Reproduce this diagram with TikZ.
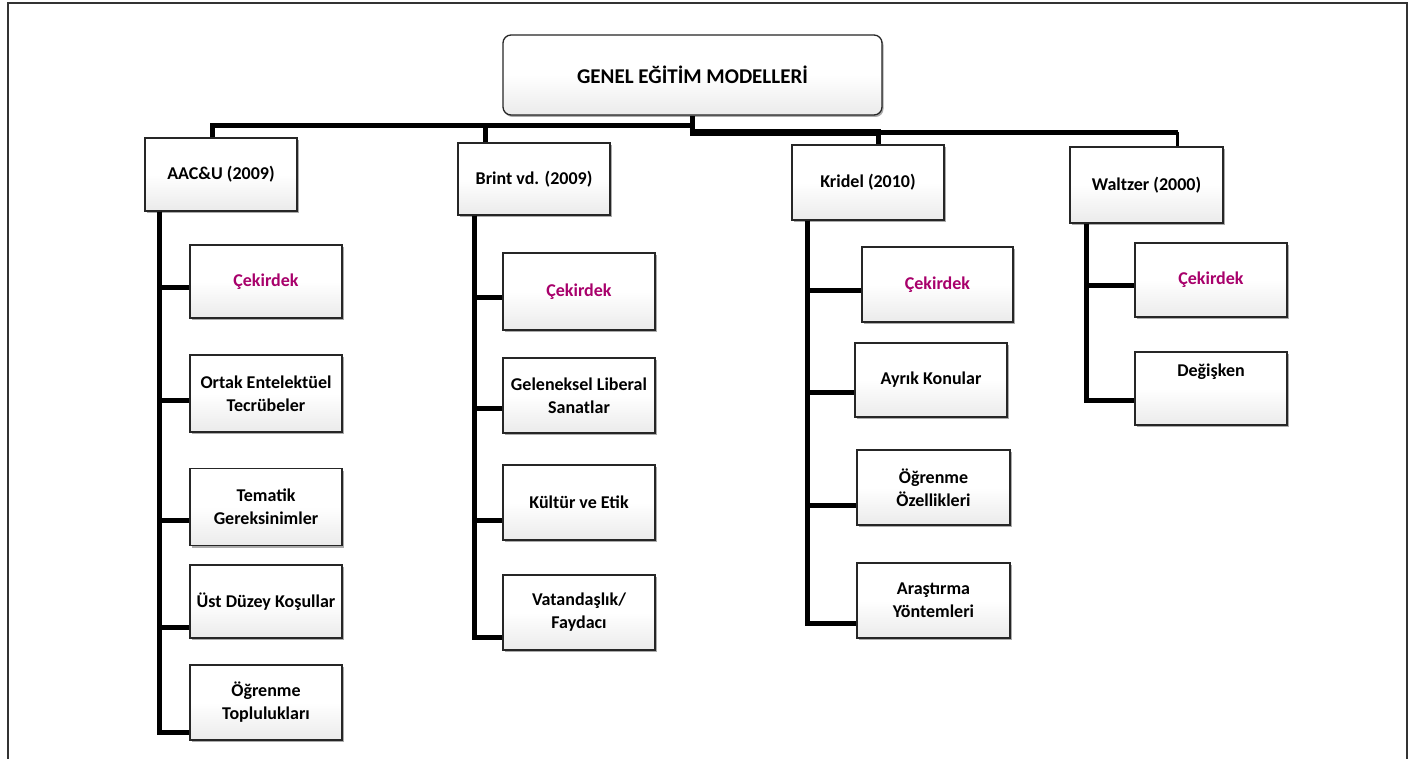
\documentclass[tikz,border=0pt]{standalone}
\usepackage{fontspec}
\setmainfont{Carlito}
\usetikzlibrary{shadows}
\definecolor{cek}{HTML}{A8006B}
\begin{document}
\begin{tikzpicture}[x=1pt,y=-1pt,
  box/.style={draw=black!85, line width=1.3pt, top color=white, bottom color=black!8, middle color=white,
    drop shadow={shadow xshift=1.5pt, shadow yshift=-2pt, fill=black!60, opacity=.55},
    minimum width=152pt, inner sep=2pt, align=center,
    font=\fontsize{18}{23}\selectfont\bfseries},
  conn/.style={line width=5pt, black},
  cek/.style={text=cek}]
\useasboundingbox (0,0) rectangle (1410,759);
\draw[line width=1.4pt, black!80] (8,759) -- (8,3) -- (1407,3) -- (1407,759);

% root
\node[box, rounded corners=8pt, minimum width=379pt, minimum height=80pt,
      font=\fontsize{21}{25}\selectfont\bfseries] (root) at (692.5,75) {GENEL EĞİTİM MODELLERİ};

% level 1
\node[box, minimum height=73pt] (aac) at (221,174.5) {AAC\&U (2009)};
\node[box, minimum height=72pt] (brint) at (534,179) {Brint vd. (2009)};
\node[box, minimum height=75pt] (kridel) at (868,182.5) {Kridel (2010)};
\node[box, minimum height=76pt, minimum width=153pt] (waltzer) at (1146.5,185) {Waltzer (2000)};

% AAC children
\node[box, cek, minimum height=73pt] (a1) at (266,281.5) {Çekirdek};
\node[box, minimum height=77pt] (a2) at (266,393.5) {Ortak Entelektüel\\Tecrübeler};
\node[box, minimum height=77pt] (a3) at (266,507) {Tematik\\Gereksinimler};
\node[box, minimum height=73pt] (a4) at (266,601.5) {Üst Düzey Koşullar};
\node[box, minimum height=75pt] (a5) at (266,702.5) {Öğrenme\\Toplulukları};

% Brint children
\node[box, cek, minimum height=77pt] (b1) at (579,291.5) {Çekirdek};
\node[box, minimum height=75pt] (b2) at (579,395.5) {Geleneksel Liberal\\Sanatlar};
\node[box, minimum height=75pt] (b3) at (579,502.5) {Kültür ve Etik};
\node[box, minimum height=75pt] (b4) at (579,612.5) {Vatandaşlık/\\Faydacı};

% Kridel children
\node[box, cek, minimum height=75pt, minimum width=151pt] (k1) at (937.5,284.5) {Çekirdek};
\node[box, minimum height=74pt] (k2) at (931,380) {Ayrık Konular};
\node[box, minimum height=75pt, minimum width=153pt] (k3) at (933.5,487.5) {Öğrenme\\Özellikleri};
\node[box, minimum height=75pt, minimum width=153pt] (k4) at (933.5,600.5) {Araştırma\\Yöntemleri};

% Waltzer children
\node[box, cek, minimum height=74pt] (w1) at (1211,280) {Çekirdek};
\node[box, minimum height=73pt, text depth=37pt] (w2) at (1211,388.5) {Değişken};

% top connectors
\draw[conn] ([xshift=-9pt]aac.north) |- ([yshift=-9.5pt]root.south) -- (root.south);
\draw[conn] ([xshift=-49pt]brint.north) -- ([xshift=-49pt, yshift=19pt]brint.north);
\draw[conn] ([yshift=-2pt]root.south) |- ([xshift=31pt, yshift=14pt]waltzer.north);
\draw[conn, line width=3.5pt] ([xshift=31pt, yshift=14pt]waltzer.north) -- ([xshift=31pt]waltzer.north);
\draw[conn] ([xshift=10pt]kridel.north) -- ([xshift=10pt, yshift=12pt]kridel.north);
\draw[conn, line width=7pt] ([xshift=-3pt, yshift=-17pt]root.south) -- ([xshift=188pt, yshift=-17pt]root.south);

% AAC spine
\draw[conn] ([xshift=15pt]aac.south west) |- ([yshift=31pt]a1.south west);
\draw[conn] ([xshift=15pt]aac.south west) |- ([yshift=32pt]a2.south west);
\draw[conn] ([xshift=15pt]aac.south west) |- ([yshift=26pt]a3.south west);
\draw[conn] ([xshift=15pt]aac.south west) |- ([yshift=11pt]a4.south west);
\draw[conn] ([xshift=15pt]aac.south west) |- ([yshift=8pt]a5.south west);

% Brint spine
\draw[conn] ([xshift=17pt]brint.south west) |- ([yshift=33pt]b1.south west);
\draw[conn] ([xshift=17pt]brint.south west) |- ([yshift=25pt]b2.south west);
\draw[conn] ([xshift=17pt]brint.south west) |- ([yshift=20pt]b3.south west);
\draw[conn] ([xshift=17pt]brint.south west) |- ([yshift=13pt]b4.south west);

% Kridel spine
\draw[conn] ([xshift=16pt]kridel.south west) |- ([yshift=32pt]k1.south west);
\draw[conn] ([xshift=16pt]kridel.south west) |- ([yshift=25pt]k2.south west);
\draw[conn] ([xshift=16pt]kridel.south west) |- ([yshift=20pt]k3.south west);
\draw[conn] ([xshift=16pt]kridel.south west) |- ([yshift=15pt]k4.south west);

% Waltzer spine
\draw[conn] ([xshift=17pt]waltzer.south west) |- ([yshift=32pt]w1.south west);
\draw[conn] ([xshift=17pt]waltzer.south west) |- ([yshift=25pt]w2.south west);
\end{tikzpicture}
\end{document}
